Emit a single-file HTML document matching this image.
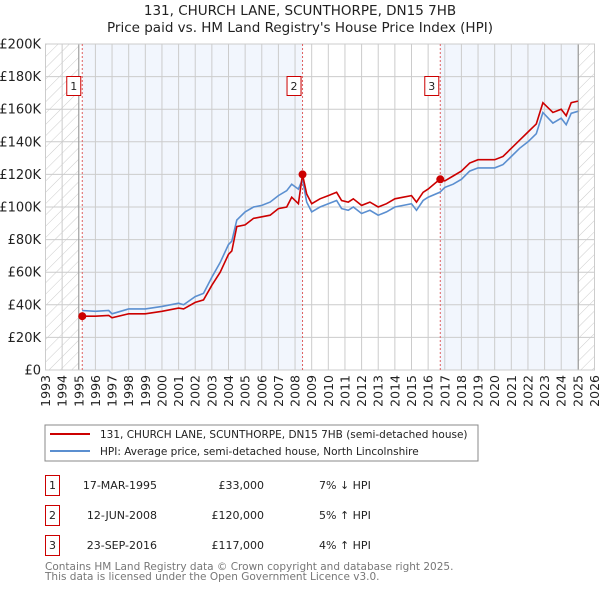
<!DOCTYPE html>
<html><head><meta charset="utf-8"><style>
body{margin:0;background:#fff;font-family:"DejaVu Sans","Liberation Sans",sans-serif;}
svg{display:block}
</style></head><body>
<svg width="600" height="590" viewBox="0 0 600 590" xmlns="http://www.w3.org/2000/svg" font-family="DejaVu Sans, Liberation Sans, sans-serif">
<defs><pattern id="hatch" width="8" height="8" patternUnits="userSpaceOnUse" patternTransform="rotate(45)"><line x1="0" y1="0" x2="0" y2="8" stroke="#ccc" stroke-width="1"/></pattern></defs>
<text x="300" y="15" text-anchor="middle" font-size="13.5" fill="#222">131, CHURCH LANE, SCUNTHORPE, DN15 7HB</text>
<text x="300" y="32" text-anchor="middle" font-size="13.5" fill="#222">Price paid vs. HM Land Registry's House Price Index (HPI)</text>
<g id="plot"></g>
<g>
<rect x="45" y="425" width="433" height="36" fill="#fff" stroke="#888"/>
<line x1="50" y1="434" x2="90" y2="434" stroke="#cc0000" stroke-width="2"/>
<text x="100" y="438" font-size="10.5" fill="#222">131, CHURCH LANE, SCUNTHORPE, DN15 7HB (semi-detached house)</text>
<line x1="50" y1="451" x2="90" y2="451" stroke="#5b8fd0" stroke-width="2"/>
<text x="100" y="455" font-size="10.5" fill="#222">HPI: Average price, semi-detached house, North Lincolnshire</text>
</g>
<g font-size="11" fill="#222">
<g><rect x="45.5" y="475.5" width="14" height="20" fill="#fff" stroke="#cc0000"/><text x="52.5" y="489" text-anchor="middle">1</text><text x="157" y="489" text-anchor="end">17-MAR-1995</text><text x="264" y="489" text-anchor="end">£33,000</text><text x="319" y="489">7% ↓ HPI</text></g>
<g><rect x="45.5" y="505.5" width="14" height="20" fill="#fff" stroke="#cc0000"/><text x="52.5" y="519" text-anchor="middle">2</text><text x="157" y="519" text-anchor="end">12-JUN-2008</text><text x="264" y="519" text-anchor="end">£120,000</text><text x="319" y="519">5% ↑ HPI</text></g>
<g><rect x="45.5" y="535.5" width="14" height="20" fill="#fff" stroke="#cc0000"/><text x="52.5" y="549" text-anchor="middle">3</text><text x="157" y="549" text-anchor="end">23-SEP-2016</text><text x="264" y="549" text-anchor="end">£117,000</text><text x="319" y="549">4% ↑ HPI</text></g>
</g>
<text x="45" y="570" font-size="10.5" fill="#777">Contains HM Land Registry data © Crown copyright and database right 2025.</text>
<text x="45" y="580" font-size="10.5" fill="#777">This data is licensed under the Open Government Licence v3.0.</text>
</svg>
<script>
const yTicks=[0,20000,40000,60000,80000,100000,120000,140000,160000,180000,200000];
const yTickLabels=["£0","£20K","£40K","£60K","£80K","£100K","£120K","£140K","£160K","£180K","£200K"];
const xYears=[1993,1994,1995,1996,1997,1998,1999,2000,2001,2002,2003,2004,2005,2006,2007,2008,2009,2010,2011,2012,2013,2014,2015,2016,2017,2018,2019,2020,2021,2022,2023,2024,2025,2026];
const hpiT=[1995.2,1996,1996.8,1997,1998,1999,2000,2001,2001.3,2002,2002.5,2003,2003.5,2004,2004.2,2004.5,2005,2005.5,2006,2006.5,2007,2007.5,2007.8,2008.2,2008.45,2008.7,2009,2009.5,2010,2010.5,2010.8,2011.2,2011.5,2012,2012.5,2013,2013.5,2014,2014.5,2015,2015.3,2015.7,2016,2016.7,2017,2017.5,2018,2018.5,2019,2019.5,2020,2020.5,2021,2021.5,2022,2022.5,2022.9,2023.5,2024,2024.3,2024.6,2025];
const hpiV=[36500,36000,36500,34500,37500,37500,39000,41000,40000,45000,47000,57000,66000,77000,79000,92000,97000,100000,101000,103000,107000,110000,114000,111000,117000,103000,97000,100000,102000,104000,99000,98000,100000,96000,98000,95000,97000,100000,101000,102000,98000,104000,106000,109000,112000,114000,117000,122000,124000,124000,124000,126000,131000,136000,140000,145000,158000,151500,154500,150500,157500,158700];
const priceT=[1995.2,1996,1996.8,1997,1998,1999,2000,2001,2001.3,2002,2002.5,2003,2003.5,2004,2004.2,2004.5,2005,2005.5,2006,2006.5,2007,2007.5,2007.8,2008.2,2008.45,2008.7,2009,2009.5,2010,2010.5,2010.8,2011.2,2011.5,2012,2012.5,2013,2013.5,2014,2014.5,2015,2015.3,2015.7,2016,2016.7,2017,2017.5,2018,2018.5,2019,2019.5,2020,2020.5,2021,2021.5,2022,2022.5,2022.9,2023.5,2024,2024.3,2024.6,2025];
const priceV=[33000,33000,33500,32000,34500,34500,36000,38000,37500,41500,43000,52000,60000,71000,73000,88000,89000,93000,94000,95000,99000,100000,106000,102000,120000,108000,102000,105000,107000,109000,104000,103000,105000,101000,103000,100000,102000,105000,106000,107000,103000,109000,111000,117000,116000,119000,122000,127000,129000,129000,129000,131000,136000,141000,146000,151000,164000,158000,160000,156000,164000,165000];
const saleT=[1995.21,2008.45,2016.73];
const saleV=[33000,120000,117000];
const saleLabels=["1","2","3"];

const X0=45.5,X1=594.5,Y0=370,Y1=44;
const xs=t=>X0+(t-1993)/(2026-1993)*(X1-X0);
const ys=v=>Y0-v/200000*(Y0-Y1);
const NS="http://www.w3.org/2000/svg";
const g=document.getElementById('plot');
function mk(tag,attrs,parent){const e=document.createElementNS(NS,tag);for(const k in attrs)e.setAttribute(k,attrs[k]);(parent||g).appendChild(e);return e;}

let e=mk('rect',{x:X0,y:Y1,width:X1-X0,height:Y0-Y1,fill:'#fff'});


e=mk('rect',{x:X0,y:Y1,width:xs(1995)-X0,height:Y0-Y1,fill:'url(#hatch)'});


e=mk('rect',{x:xs(2025)+0.5,y:Y1,width:X1-xs(2025)-0.5,height:Y0-Y1,fill:'url(#hatch)'});


e=mk('rect',{x:xs(saleT[0]),y:Y1,width:xs(saleT[1])-xs(saleT[0]),height:Y0-Y1,fill:'#f2f6fd'});


e=mk('rect',{x:xs(saleT[2]),y:Y1,width:xs(2025)-xs(saleT[2]),height:Y0-Y1,fill:'#f2f6fd'});



yTicks.forEach((v,i)=>{
 const l=mk('line',{x1:X0,x2:X1,y1:ys(v),y2:ys(v),stroke:'#cccccc','stroke-width':1});
 
 
 const t=mk('text',{x:41,y:ys(v)+4.5,'text-anchor':'end','font-size':13,fill:'#222'});
 t.textContent=yTickLabels[i];
 
 
});
xYears.forEach(yr=>{
 const l=mk('line',{x1:xs(yr),x2:xs(yr),y1:Y1,y2:Y0,stroke:'#cccccc','stroke-width':1});
 
 
 const t=mk('text',{x:0,y:0,'text-anchor':'end','font-size':12.5,fill:'#222',transform:`translate(${xs(yr)+4.5},375) rotate(-90)`});
 t.textContent=yr;
 
 
});
e=mk('line',{x1:xs(1995),x2:xs(1995),y1:Y1,y2:Y0,stroke:'#999'});


e=mk('line',{x1:xs(2025)+0.5,x2:xs(2025)+0.5,y1:Y1,y2:Y0,stroke:'#999'});


e=mk('rect',{x:X0,y:Y1,width:X1-X0,height:Y0-Y1,fill:'none',stroke:'#ccc'});



saleT.forEach((t,i)=>{
 const l=mk('line',{x1:xs(t),x2:xs(t),y1:Y1,y2:Y0,stroke:'#e06060','stroke-width':1,'stroke-dasharray':'2,2'});
 
 
});

function path(T,V){return T.map((t,i)=>(i?'L':'M')+xs(t).toFixed(1)+','+ys(V[i]).toFixed(1)).join('');}
e=mk('path',{d:path(hpiT,hpiV),fill:'none',stroke:'#5b8fd0','stroke-width':1.6});


e=mk('path',{d:path(priceT,priceV),fill:'none',stroke:'#cc0000','stroke-width':1.6});



saleT.forEach((t,i)=>{
 const c=mk('circle',{cx:xs(t),cy:ys(saleV[i]),r:4,fill:'#cc0000'});
 
 
 const bx=xs(t)-8.5-7;
 const r=mk('rect',{x:bx,y:76.5,width:14,height:19,fill:'#fff',stroke:'#cc0000'});
 
 
 const tx=mk('text',{x:bx+7,y:90,'text-anchor':'middle','font-size':11,fill:'#222'});
 tx.textContent=saleLabels[i];
 
 
});
</script>
</body></html>
